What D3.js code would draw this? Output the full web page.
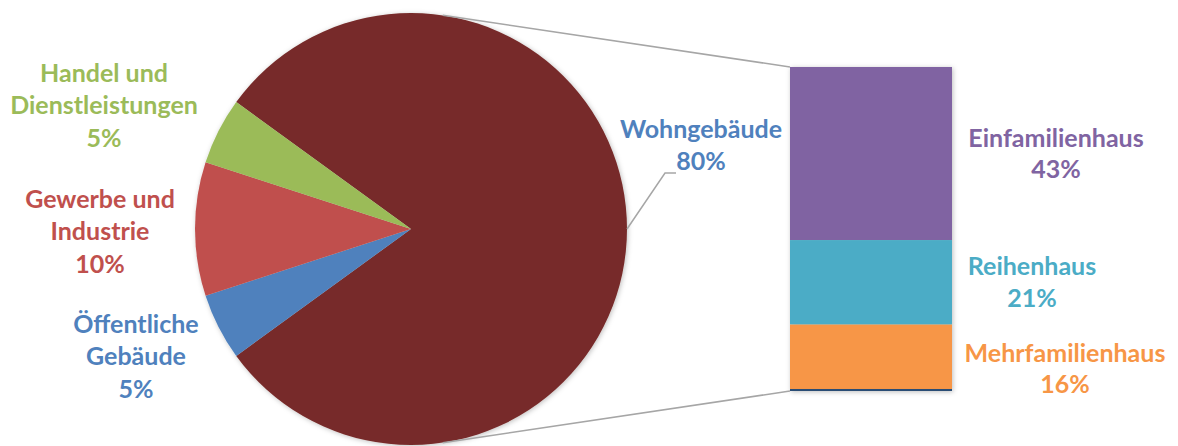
<!DOCTYPE html>
<html>
<head>
<meta charset="utf-8">
<script src="https://cdn.jsdelivr.net/npm/d3@7"></script>
<style>
  body { margin: 0; background: #fff; }
  text { font-family: Lato, "Open Sans", sans-serif; font-weight: bold; font-size: 25px; }
</style>
</head>
<body>
<script>
var width = 1178,
    height = 446;

// pie data (share of all buildings)
var pieCategories = ["Wohngebäude", "Öffentliche Gebäude", "Gewerbe und Industrie", "Handel und Dienstleistungen"];
var pieValues = [80, 5, 10, 5];
var pieLabelLines = [["Wohngebäude", "80%"], ["Öffentliche", "Gebäude", "5%"], ["Gewerbe und", "Industrie", "10%"], ["Handel und", "Dienstleistungen", "5%"]];

// bar data (split of Wohngebäude)
var barCategories = ["Einfamilienhaus", "Reihenhaus", "Mehrfamilienhaus", "Sonstige"];
var barValues = [43, 21, 16, 0.5];
var barLabelLines = [["Einfamilienhaus", "43%"], ["Reihenhaus", "21%"], ["Mehrfamilienhaus", "16%"], []];

var pieColors = ["#772C2A", "#4F81BD", "#C0504D", "#9BBB59"];
var pieTextColors = ["#4F81BD", "#4F81BD", "#C0504D", "#9BBB59"];
var barColors = ["#8064A2", "#4BACC6", "#F79646", "#2C4D75"];

var cx = 411, cy = 229, radius = 216;
var barX = 790, barW = 162, barTop = 67, barBottom = 391;

// label anchor (center of first line block) for pie labels
var pieLabelPos = [[701, 138], [136, 333], [100, 208], [104, 82]];
// horizontal centers and extra y shift of bar labels
var barLabelX = [1056, 1032, 1065, 0];
var barLabelShift = [0, 0, 12, 0];

var svg = d3.select("body").append("svg")
    .attr("width", width)
    .attr("height", height);

var defs = svg.append("defs");
var f = defs.append("filter").attr("id", "shadow")
    .attr("x", "-10%").attr("y", "-10%").attr("width", "120%").attr("height", "120%");
f.append("feDropShadow")
    .attr("dx", 1).attr("dy", 1)
    .attr("stdDeviation", 2.5)
    .attr("flood-color", "#000")
    .attr("flood-opacity", 0.25);

// pie, first slice centred on the right
var start = -(pieValues[0] / d3.sum(pieValues)) * Math.PI + Math.PI / 2;
var pie = d3.pie()
    .sort(null)
    .startAngle(start)
    .endAngle(start + 2 * Math.PI)
    .value(function(d) { return d; });

var arc = d3.arc().innerRadius(0).outerRadius(radius);
var arcs = pie(pieValues);

var pieG = svg.append("g")
    .attr("transform", "translate(" + cx + "," + cy + ")")
    .attr("filter", "url(#shadow)");

pieG.selectAll("path")
    .data(arcs)
  .enter().append("path")
    .attr("d", arc)
    .attr("fill", function(d, i) { return pieColors[i]; });

// stacked bar
var y = d3.scaleLinear()
    .domain([0, d3.sum(barValues)])
    .range([barTop, barBottom]);

var stacked = [];
var acc = 0;
barValues.forEach(function(v, i) {
  stacked.push({ y0: acc, y1: acc + v, i: i });
  acc += v;
});

var barG = svg.append("g").attr("filter", "url(#shadow)");
barG.selectAll("rect")
    .data(stacked)
  .enter().append("rect")
    .attr("x", barX)
    .attr("width", barW)
    .attr("y", function(d) { return y(d.y0); })
    .attr("height", function(d) { return y(d.y1) - y(d.y0); })
    .attr("fill", function(d) { return barColors[d.i]; });

// connector lines: tangent from bar corners to the pie
function tangent(px, py, top) {
  var dx = px - cx, dy = py - cy;
  var d = Math.sqrt(dx * dx + dy * dy);
  var phi = Math.atan2(dy, dx), a = Math.acos(radius / d);
  var p1 = [cx + radius * Math.cos(phi - a), cy + radius * Math.sin(phi - a)];
  var p2 = [cx + radius * Math.cos(phi + a), cy + radius * Math.sin(phi + a)];
  if (top) return p1[1] < p2[1] ? p1 : p2;
  return p1[1] > p2[1] ? p1 : p2;
}
var t1 = tangent(barX, barTop, true);
var t2 = tangent(barX, barBottom, false);
svg.append("line")
    .attr("x1", t1[0]).attr("y1", t1[1]).attr("x2", barX).attr("y2", barTop)
    .attr("stroke", "#A6A6A6").attr("stroke-width", 1.5);
svg.append("line")
    .attr("x1", t2[0]).attr("y1", t2[1]).attr("x2", barX).attr("y2", barBottom)
    .attr("stroke", "#A6A6A6").attr("stroke-width", 1.5);

// leader line for Wohngebäude
var mid = (arcs[0].startAngle + arcs[0].endAngle) / 2;
var lx = cx + radius * Math.sin(mid), ly = cy - radius * Math.cos(mid);
svg.append("path")
    .attr("d", "M" + lx + "," + ly + "L665,173L676,173")
    .attr("fill", "none")
    .attr("stroke", "#A6A6A6")
    .attr("stroke-width", 1.5);

// pie labels
pieLabelLines.forEach(function(lines, i) {
  var t = svg.append("text")
      .attr("text-anchor", "middle")
      .attr("fill", pieTextColors[i]);
  lines.forEach(function(s, j) {
    t.append("tspan")
      .attr("x", pieLabelPos[i][0])
      .attr("y", pieLabelPos[i][1] + j * 32.3)
      .text(s);
  });
});

// bar labels
stacked.forEach(function(d) {
  var lines = barLabelLines[d.i];
  if (!lines.length) return;
  var ym = (y(d.y0) + y(d.y1)) / 2 - 7 + barLabelShift[d.i];
  var t = svg.append("text")
      .attr("text-anchor", "middle")
      .attr("fill", barColors[d.i]);
  lines.forEach(function(s, j) {
    t.append("tspan")
      .attr("x", barLabelX[d.i])
      .attr("y", ym + j * 31.5)
      .text(s);
  });
});
</script>
</body>
</html>
